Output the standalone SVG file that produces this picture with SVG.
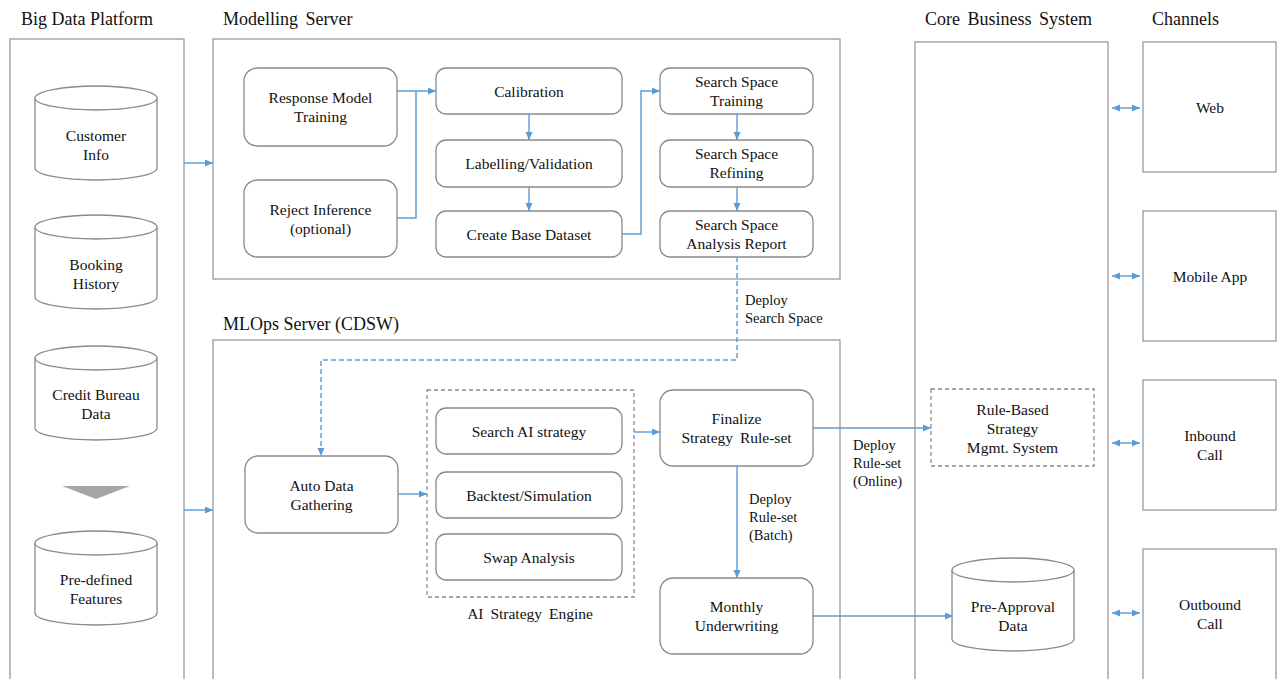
<svg xmlns="http://www.w3.org/2000/svg" width="1277" height="679" viewBox="0 0 1277 679" font-family="'Liberation Serif', 'Times New Roman', Tinos, 'DejaVu Serif', serif">
<defs>
<marker id="ah" markerUnits="userSpaceOnUse" markerWidth="9" markerHeight="8" refX="8" refY="3.5" orient="auto-start-reverse"><path d="M0,0 L8,3.5 L0,7 z" fill="#5b9bd5"/></marker>
<style>
.t,.n,.l{font-family:'Liberation Serif','Times New Roman',Tinos,'DejaVu Serif',serif;fill:#111;}
.t{font-size:18px;}
.n{font-size:15.5px;text-anchor:middle;}
.l{font-size:14.5px;}
.box{fill:#fff;stroke:#9a9a9a;stroke-width:1.3;}
.node{fill:#fff;stroke:#8a8a8a;stroke-width:1.3;}
.dbox{fill:none;stroke:#8a8a8a;stroke-width:1.3;stroke-dasharray:4,3;}
.c{fill:none;stroke:#5b9bd5;stroke-width:1.4;}
.a{marker-end:url(#ah);}
.b{marker-start:url(#ah);marker-end:url(#ah);}
.dash{stroke-dasharray:5,3;}
</style>
</defs>
<rect width="1277" height="679" fill="#fff"/>

<g id="titles">
<text class="t" x="21" y="25">Big Data Platform</text>
<text class="t" x="223" y="25" style="word-spacing:3px">Modelling Server</text>
<text class="t" x="223" y="330">MLOps Server (CDSW)</text>
<text class="t" x="925" y="25" style="word-spacing:3px">Core Business System</text>
<text class="t" x="1152" y="25">Channels</text>
</g>

<g id="containers">
<rect id="big-data-platform" class="box" x="10" y="39" width="174" height="660"/>
<rect id="modelling-server" class="box" x="213" y="39" width="627" height="240"/>
<rect id="mlops-server" class="box" x="213" y="340" width="627" height="350"/>
<rect id="core-business-system" class="box" x="915" y="42" width="193" height="650"/>
</g>

<g id="customer-info">
<path class="node" d="M35,98 A61,12 0 0 1 157,98 V168 A61,12 0 0 1 35,168 Z"/>
<path class="node" d="M35,98 A61,12 0 0 0 157,98" fill="none"/>
<text class="n" x="96" y="141">Customer</text><text class="n" x="96" y="160">Info</text>
</g>
<g id="booking-history">
<path class="node" d="M35,227 A61,12 0 0 1 157,227 V297 A61,12 0 0 1 35,297 Z"/>
<path class="node" d="M35,227 A61,12 0 0 0 157,227" fill="none"/>
<text class="n" x="96" y="270">Booking</text><text class="n" x="96" y="289">History</text>
</g>
<g id="credit-bureau-data">
<path class="node" d="M35,358 A61,12 0 0 1 157,358 V428 A61,12 0 0 1 35,428 Z"/>
<path class="node" d="M35,358 A61,12 0 0 0 157,358" fill="none"/>
<text class="n" x="96" y="400">Credit Bureau</text><text class="n" x="96" y="419">Data</text>
</g>
<g id="funnel-arrow">
<polygon points="62,486 130,486 96,499" fill="#a6a6a6"/>
</g>
<g id="pre-defined-features">
<path class="node" d="M35,543 A61,12 0 0 1 157,543 V613 A61,12 0 0 1 35,613 Z"/>
<path class="node" d="M35,543 A61,12 0 0 0 157,543" fill="none"/>
<text class="n" x="96" y="585">Pre-defined</text><text class="n" x="96" y="604">Features</text>
</g>

<g id="response-model-training">
<rect class="node" x="244" y="68" width="153" height="78" rx="13"/>
<text class="n" x="320.5" y="103">Response Model</text><text class="n" x="320.5" y="122">Training</text>
</g>
<g id="reject-inference">
<rect class="node" x="244" y="180" width="153" height="77" rx="13"/>
<text class="n" x="320.5" y="215">Reject Inference</text><text class="n" x="320.5" y="234">(optional)</text>
</g>
<g id="calibration">
<rect class="node" x="436" y="68" width="186" height="46" rx="10"/>
<text class="n" x="529" y="97">Calibration</text>
</g>
<g id="labelling-validation">
<rect class="node" x="436" y="140" width="186" height="47" rx="10"/>
<text class="n" x="529" y="169">Labelling/Validation</text>
</g>
<g id="create-base-dataset">
<rect class="node" x="436" y="211" width="186" height="46" rx="10"/>
<text class="n" x="529" y="240">Create Base Dataset</text>
</g>
<g id="search-space-training">
<rect class="node" x="660" y="68" width="153" height="46" rx="10"/>
<text class="n" x="736.5" y="87">Search Space</text><text class="n" x="736.5" y="106">Training</text>
</g>
<g id="search-space-refining">
<rect class="node" x="660" y="140" width="153" height="47" rx="10"/>
<text class="n" x="736.5" y="159">Search Space</text><text class="n" x="736.5" y="178">Refining</text>
</g>
<g id="search-space-analysis-report">
<rect class="node" x="660" y="211" width="153" height="46" rx="10"/>
<text class="n" x="736.5" y="230">Search Space</text><text class="n" x="736.5" y="249">Analysis Report</text>
</g>

<g id="auto-data-gathering">
<rect class="node" x="245" y="456" width="153" height="77" rx="13"/>
<text class="n" x="321.5" y="491">Auto Data</text><text class="n" x="321.5" y="510">Gathering</text>
</g>
<g id="ai-strategy-engine">
<rect class="dbox" x="427" y="390" width="207" height="207"/>
<text class="n" x="530" y="619" style="word-spacing:3px">AI Strategy Engine</text>
</g>
<g id="search-ai-strategy">
<rect class="node" x="436" y="408" width="186" height="46" rx="10"/>
<text class="n" x="529" y="437">Search AI strategy</text>
</g>
<g id="backtest-simulation">
<rect class="node" x="436" y="472" width="186" height="46" rx="10"/>
<text class="n" x="529" y="501">Backtest/Simulation</text>
</g>
<g id="swap-analysis">
<rect class="node" x="436" y="534" width="186" height="46" rx="10"/>
<text class="n" x="529" y="563">Swap Analysis</text>
</g>
<g id="finalize-strategy-rule-set">
<rect class="node" x="660" y="390" width="153" height="76" rx="13"/>
<text class="n" x="736.5" y="424">Finalize</text><text class="n" x="736.5" y="443" style="word-spacing:3px">Strategy Rule-set</text>
</g>
<g id="monthly-underwriting">
<rect class="node" x="660" y="578" width="153" height="76" rx="13"/>
<text class="n" x="736.5" y="612">Monthly</text><text class="n" x="736.5" y="631">Underwriting</text>
</g>

<g id="rule-based-strategy-mgmt-system">
<rect class="dbox" x="931" y="389" width="163" height="77"/>
<text class="n" x="1012.5" y="415">Rule-Based</text><text class="n" x="1012.5" y="434">Strategy</text><text class="n" x="1012.5" y="453">Mgmt. System</text>
</g>
<g id="pre-approval-data">
<path class="node" d="M952,570 A61,12 0 0 1 1074,570 V639 A61,12 0 0 1 952,639 Z"/>
<path class="node" d="M952,570 A61,12 0 0 0 1074,570" fill="none"/>
<text class="n" x="1013" y="612">Pre-Approval</text><text class="n" x="1013" y="631">Data</text>
</g>

<g id="web">
<rect class="box" x="1143" y="42" width="133" height="130"/>
<text class="n" x="1210" y="113">Web</text>
</g>
<g id="mobile-app">
<rect class="box" x="1143" y="211" width="133" height="130"/>
<text class="n" x="1210" y="282">Mobile App</text>
</g>
<g id="inbound-call">
<rect class="box" x="1143" y="380" width="133" height="130"/>
<text class="n" x="1210" y="441">Inbound</text><text class="n" x="1210" y="460">Call</text>
</g>
<g id="outbound-call">
<rect class="box" x="1143" y="549" width="133" height="140"/>
<text class="n" x="1210" y="610">Outbound</text><text class="n" x="1210" y="629">Call</text>
</g>

<g id="connectors">
<path class="c a" d="M184,163 H213"/>
<path class="c a" d="M184,510 H213"/>
<path class="c a" d="M397,91 H436"/>
<path class="c" d="M397,218 H416 V91"/>
<path class="c a" d="M529,114 V140"/>
<path class="c a" d="M529,187 V211"/>
<path class="c a" d="M622,234 H641 V91 H660"/>
<path class="c a" d="M737,114 V140"/>
<path class="c a" d="M737,187 V211"/>
<path class="c a dash" d="M737,257 V360 H321 V456"/>
<path class="c a" d="M398,494 H427"/>
<path class="c a" d="M634,432 H660"/>
<path class="c a" d="M737,466 V578"/>
<path class="c a" d="M813,428 H931"/>
<path class="c a" d="M813,616 H953"/>
<path class="c b" d="M1112,108 H1140"/>
<path class="c b" d="M1112,276 H1140"/>
<path class="c b" d="M1112,443 H1140"/>
<path class="c b" d="M1112,613 H1140"/>
<text class="l" x="745" y="305">Deploy</text><text class="l" x="745" y="323">Search Space</text>
<text class="l" x="749" y="504">Deploy</text><text class="l" x="749" y="522">Rule-set</text><text class="l" x="749" y="540">(Batch)</text>
<text class="l" x="853" y="450">Deploy</text><text class="l" x="853" y="468">Rule-set</text><text class="l" x="853" y="486">(Online)</text>
</g>
</svg>
